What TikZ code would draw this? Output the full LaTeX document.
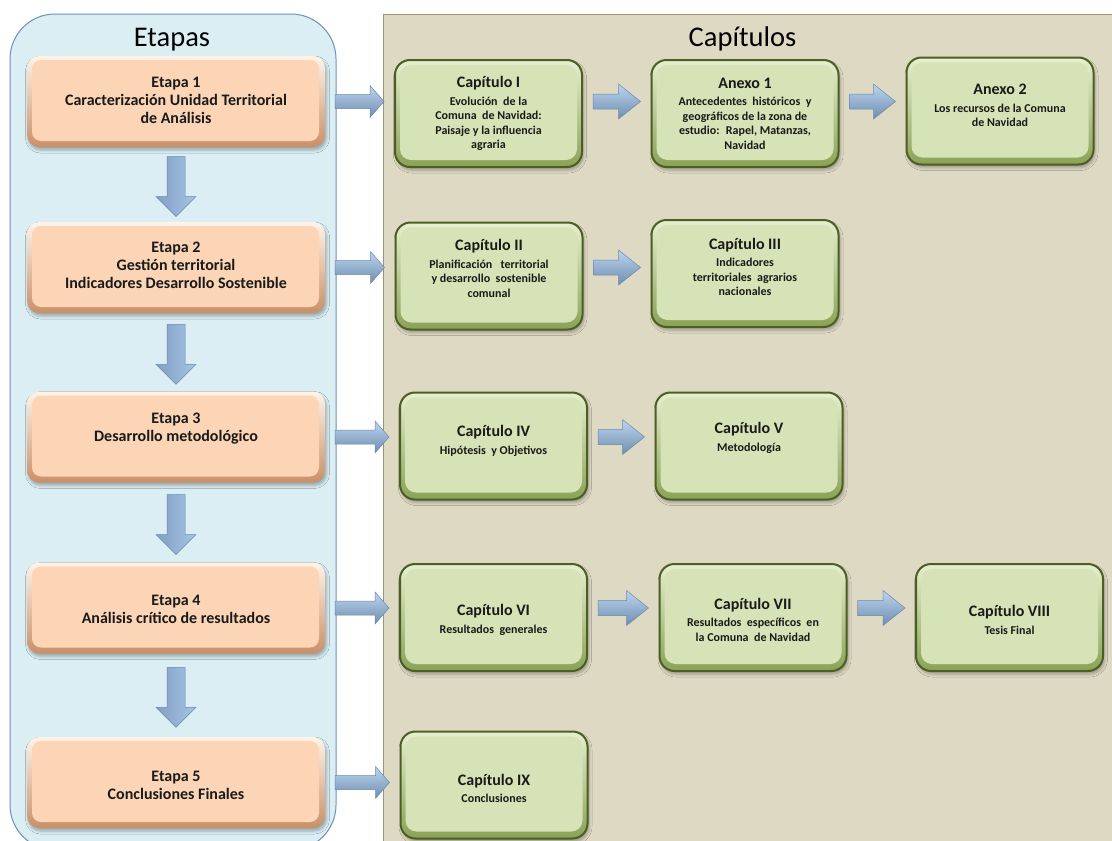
\documentclass[tikz,border=0pt]{standalone}
\usepackage{fontspec}
\setmainfont{Carlito}
\usetikzlibrary{calc,shadows.blur}

\definecolor{panelblue}{HTML}{DAEEF3}
\definecolor{panelblueline}{HTML}{6F8FBA}
\definecolor{paneltan}{HTML}{DDD9C3}
\definecolor{paneltanline}{HTML}{9A9478}
\definecolor{greenrimtop}{HTML}{E6EFD0}
\definecolor{greenrimbot}{HTML}{8AA256}
\definecolor{greenface}{HTML}{D5E3B6}
\definecolor{greenline}{HTML}{4B5E24}
\definecolor{peachtop}{HTML}{FFF3E8}
\definecolor{peachbot}{HTML}{C99068}
\definecolor{peachface}{HTML}{FBD5B5}
\definecolor{inktext}{HTML}{1A1A1A}
\definecolor{arrowtop}{HTML}{BCD6F0}
\definecolor{arrowlight}{HTML}{E2EFFA}
\definecolor{arrowbot}{HTML}{6F8DAF}
\definecolor{arrowleft}{HTML}{829FC3}
\definecolor{arrowright}{HTML}{A6C5E5}
\definecolor{arrowline}{HTML}{6A89AD}

\tikzset{
  stagepanel/.style={rectangle, rounded corners=45pt, fill=panelblue,
    draw=panelblueline, line width=1pt, minimum width=326pt, minimum height=836pt},
  chappanel/.style={rectangle, fill=paneltan, draw=paneltanline, line width=0.8pt,
    minimum width=733pt, minimum height=834pt},
  paneltitle/.style={font=\fontsize{28.5}{30}\selectfont, text=black, anchor=base},
  stagebox/.style={rectangle, rounded corners=12pt, minimum width=298pt,
    minimum height=91pt, top color=peachtop, bottom color=peachbot, draw=none,
    blur shadow={shadow xshift=1.5pt, shadow yshift=-3pt, shadow blur radius=3pt,
      shadow opacity=30},
    path picture={\fill[peachface, rounded corners=9pt]
      ([shift={(5pt,-4pt)}]path picture bounding box.north west) rectangle
      ([shift={(-6pt,6pt)}]path picture bounding box.south east);}},
  chapbox/.style={rectangle, rounded corners=15pt, minimum width=187pt,
    minimum height=107pt, draw=greenline, line width=2pt,
    top color=greenrimtop, bottom color=greenrimbot,
    blur shadow={shadow xshift=1.5pt, shadow yshift=-3pt, shadow blur radius=3pt,
      shadow opacity=30},
    path picture={\fill[greenface, rounded corners=11pt]
      ([shift={(5pt,-5pt)}]path picture bounding box.north west) rectangle
      ([shift={(-5pt,7pt)}]path picture bounding box.south east);}},
  stagetext/.style={align=center, text=inktext,
    font=\bfseries\fontsize{16}{18}\selectfont},
  chaptext/.style={align=center, text=inktext,
    font=\bfseries\fontsize{12}{14.5}\selectfont},
  rightarrow/.style={top color=arrowtop, middle color=arrowlight,
    bottom color=arrowbot, draw=arrowline, line width=0.5pt},
  downarrow/.style={left color=arrowleft, middle color=arrowlight,
    right color=arrowright, draw=arrowline, line width=0.5pt}
}

% block arrow pointing right: from node, to node, row node, shaft half, head half, head length
\newcommand\fatright[6]{%
  \shade[rightarrow] let \p1=(#1.east), \p2=(#2.west), \p3=(#3.center) in
    (\x1+10pt,\y3+#4) -- (\x2-10pt-#6,\y3+#4) -- (\x2-10pt-#6,\y3+#5) --
    (\x2-10pt,\y3) -- (\x2-10pt-#6,\y3-#5) -- (\x2-10pt-#6,\y3-#4) --
    (\x1+10pt,\y3-#4) -- cycle;}

% block arrow pointing down between two stacked nodes
\newcommand\fatdown[2]{%
  \shade[downarrow] let \p3=($(#1.south)!0.5!(#2.north)+(0,2)$) in
    (\x3-9pt,\y3+30pt) -- (\x3-9pt,\y3-10pt) -- (\x3-20pt,\y3-10pt) --
    (\x3,\y3-30pt) -- (\x3+20pt,\y3-10pt) -- (\x3+9pt,\y3-10pt) --
    (\x3+9pt,\y3+30pt) -- cycle;}

\newcommand\chtitle[1]{{\fontsize{16}{18}\selectfont #1}\\[3pt]}

\begin{document}
\begin{tikzpicture}[x=1pt, y=-1pt]
\useasboundingbox (0,0) rectangle (1112,841);

% panels
\node[stagepanel] (stages) at (173,432) {};
\node[chappanel] (chapters) at (749.5,431) {};
\node[paneltitle] (stagestitle) at (172,46) {Etapas};
\node[paneltitle] (chaptitle) at (742.5,46) {Capítulos};

% stages
\node[stagebox] (e1) at (176,101.5) {};
\node[stagebox] (e2) at (176,267.5) {};
\node[stagebox] (e3) at (176,437) {};
\node[stagebox] (e4) at (176,608) {};
\node[stagebox] (e5) at (176,782.5) {};

\node[stagetext] (e1t) at (176,100) {Etapa 1\\Caracterización Unidad Territorial\\de Análisis};
\node[stagetext] (e2t) at (176,265) {Etapa 2\\Gestión territorial\\Indicadores Desarrollo Sostenible};
\node[stagetext] (e3t) at (176,429) {Etapa 3\\Desarrollo metodológico};
\node[stagetext] (e4t) at (176,609) {Etapa 4\\Análisis crítico de resultados};
\node[stagetext] (e5t) at (176,785.5) {Etapa 5\\Conclusiones Finales};

% chapters
\node[chapbox] (c1) at (488.5,113.5) {};
\node[chapbox] (a1) at (745,113.5) {};
\node[chapbox] (a2) at (1000,111) {};
\node[chapbox] (c2) at (489,276) {};
\node[chapbox] (c3) at (745,273.5) {};
\node[chapbox] (c4) at (493.5,446) {};
\node[chapbox] (c5) at (749,446) {};
\node[chapbox] (c6) at (493.5,617.5) {};
\node[chapbox] (c7) at (753,617.5) {};
\node[chapbox] (c8) at (1009.5,617.5) {};
\node[chapbox] (c9) at (494,785) {};

\node[chaptext] (c1t) at (488.5,113.5) {\chtitle{Capítulo I}Evolución~ de la\\Comuna~ de Navidad:\\Paisaje y la influencia\\agraria};
\node[chaptext] (a1t) at (745,113.5) {\chtitle{Anexo 1}Antecedentes~ históricos~ y\\geográficos de la zona de\\estudio:~ Rapel, Matanzas,\\Navidad};
\node[chaptext] (a2t) at (1000,105.5) {\chtitle{Anexo 2}Los recursos de la Comuna\\de Navidad};
\node[chaptext] (c2t) at (489,268.5) {\chtitle{Capítulo II}Planificación~~ territorial\\y desarrollo~ sostenible\\comunal};
\node[chaptext] (c3t) at (745,267) {\chtitle{Capítulo III}Indicadores\\territoriales~ agrarios\\nacionales};
\node[chaptext] (c4t) at (493.5,441) {\chtitle{Capítulo IV}Hipótesis~ y Objetivos};
\node[chaptext] (c5t) at (749,438) {\chtitle{Capítulo V}Metodología};
\node[chaptext] (c6t) at (493.5,620) {\chtitle{Capítulo VI}Resultados~ generales};
\node[chaptext] (c7t) at (753,619.5) {\chtitle{Capítulo VII}Resultados~ específicos~ en\\la Comuna~ de Navidad};
\node[chaptext] (c8t) at (1009.5,620) {\chtitle{Capítulo VIII}Tesis Final};
\node[chaptext] (c9t) at (494,788.5) {\chtitle{Capítulo IX}Conclusiones};

% flow between stages
\fatdown{e1}{e2}
\fatdown{e2}{e3}
\fatdown{e3}{e4}
\fatdown{e4}{e5}

% stages to chapters
\fatright{e1}{c1}{e1}{7pt}{16pt}{14pt}
\fatright{e2}{c2}{e2}{7pt}{16pt}{14pt}
\fatright{e3}{c4}{e3}{7pt}{16pt}{14pt}
\fatright{e4}{c6}{e4}{7pt}{16pt}{14pt}
\fatright{e5}{c9}{e5}{7pt}{16pt}{14pt}

% chapter sequences
\fatright{c1}{a1}{e1}{7.5pt}{17.5pt}{22pt}
\fatright{a1}{a2}{e1}{7.5pt}{17.5pt}{22pt}
\fatright{c2}{c3}{e2}{7.5pt}{17.5pt}{22pt}
\fatright{c4}{c5}{e3}{7.5pt}{17.5pt}{22pt}
\fatright{c6}{c7}{e4}{7.5pt}{17.5pt}{22pt}
\fatright{c7}{c8}{e4}{7.5pt}{17.5pt}{22pt}
\end{tikzpicture}
\end{document}
